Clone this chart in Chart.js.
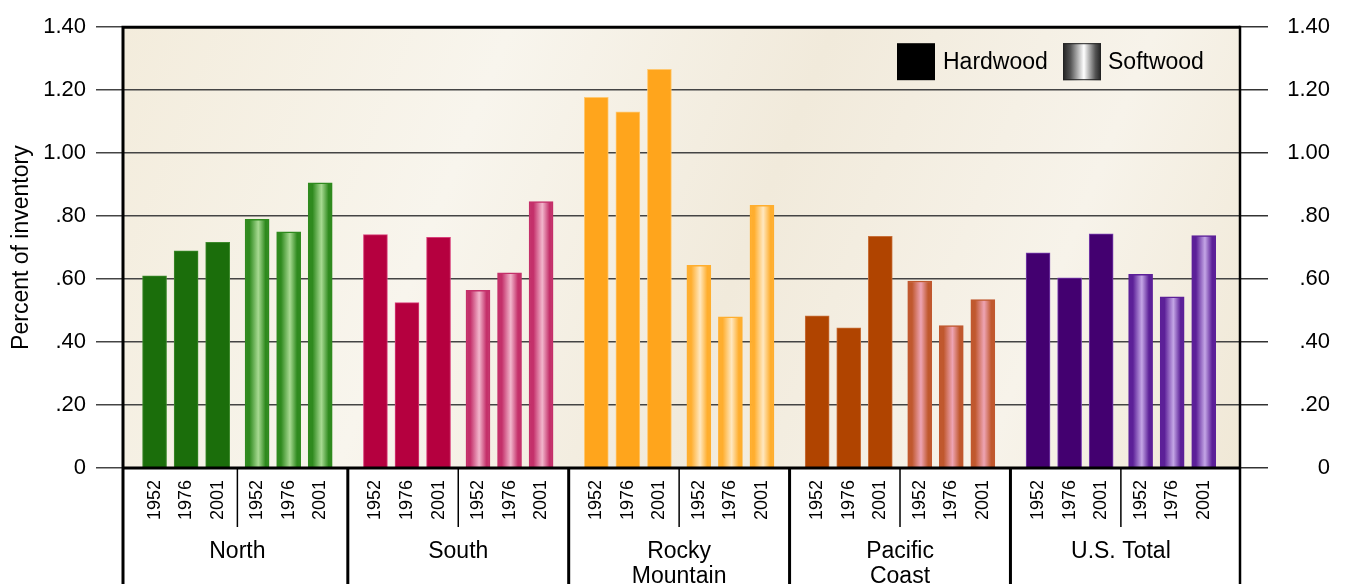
<!DOCTYPE html>
<html>
<head>
<meta charset="utf-8">
<title>Percent of inventory</title>
<script src="https://cdn.jsdelivr.net/npm/chart.js@4.4.1/dist/chart.umd.min.js"></script>
<style>
    html, body { margin: 0; padding: 0; background: #fff; }
    #chart-wrap { position: relative; width: 1347px; height: 584px; }
</style>
</head>
<body>
<div id="chart-wrap"><canvas id="inventory-chart"></canvas></div>
<script>
// --- Data ---
const regions = ['North', 'South', ['Rocky', 'Mountain'], ['Pacific', 'Coast'], 'U.S. Total'];
const years = ['1952', '1976', '2001'];
const hardwood = [
    [0.610, 0.690, 0.717],
    [0.741, 0.525, 0.733],
    [1.177, 1.131, 1.266],
    [0.483, 0.445, 0.736],
    [0.683, 0.604, 0.744]
];
const softwood = [
    [0.790, 0.750, 0.906],
    [0.564, 0.620, 0.846],
    [0.644, 0.480, 0.834],
    [0.594, 0.452, 0.535],
    [0.615, 0.544, 0.738]
];
const yTickValues = [0, 0.2, 0.4, 0.6, 0.8, 1.0, 1.2, 1.4];
const yTickLabels = ['0', '.20', '.40', '.60', '.80', '1.00', '1.20', '1.40'];
const legendLabels = ['Hardwood', 'Softwood'];

// --- Colours per region ---
const hardColors = ['#1b6e0b', '#b5003f', '#ffa51c', '#b04400', '#430070'];
const hardEdges = ['#3d8a2c', '#d8407a', '#ffc870', '#c8703a', '#7a40b0'];
const softEdges = ['#2f8a1e', '#c4306a', '#ffae2e', '#c0582e', '#5c2098'];
const softLights = ['#a8da92', '#f2b6cc', '#ffe8c0', '#eea4b4', '#c4a6e6'];

const FONT = '"Liberation Sans", Arial, Helvetica, sans-serif';
const BAR_W = 24;
const GROUP_SPAN = 7;
// slot of each bar inside a region group (3 hardwood, small gap, 3 softwood)
const slotOffsets = [1, 2, 3, 4.25, 5.25, 6.25];

function slotX(g, i) {
    return g * GROUP_SPAN + slotOffsets[i];
}

const hardPoints = [];
const softPoints = [];
const tickPositions = [];
regions.forEach((r, g) => {
    hardwood[g].forEach((v, i) => hardPoints.push({ x: slotX(g, i), y: v }));
    softwood[g].forEach((v, i) => softPoints.push({ x: slotX(g, i + 3), y: v }));
    for (let i = 0; i < 6; i++) tickPositions.push(slotX(g, i));
});

// Softwood bars get a cylinder-like horizontal gradient
function softFill(ctx) {
    if (ctx.type !== 'data') return '#888';
    const g = Math.floor(ctx.dataIndex / 3);
    const xs = ctx.chart.scales.x;
    const cx = xs ? xs.getPixelForValue(ctx.raw.x) : NaN;
    if (!isFinite(cx)) return softEdges[g];
    const grad = ctx.chart.ctx.createLinearGradient(cx - BAR_W / 2, 0, cx + BAR_W / 2, 0);
    grad.addColorStop(0, softEdges[g]);
    grad.addColorStop(0.18, softEdges[g]);
    grad.addColorStop(0.55, softLights[g]);
    grad.addColorStop(0.85, softEdges[g]);
    grad.addColorStop(1, softEdges[g]);
    return grad;
}

// Background, frame, category separators, region names and legend
const decorPlugin = {
    id: 'decor',
    beforeDraw(chart) {
        const { ctx, chartArea: a } = chart;
        const bg = ctx.createLinearGradient(a.left, a.top, a.right, a.bottom);
        bg.addColorStop(0, '#f3ecdc');
        bg.addColorStop(0.3, '#f8f5ed');
        bg.addColorStop(0.55, '#f1eadb');
        bg.addColorStop(0.8, '#f7f3ea');
        bg.addColorStop(1, '#f0e8d6');
        ctx.save();
        ctx.fillStyle = bg;
        ctx.fillRect(a.left, a.top, a.right - a.left, a.bottom - a.top);
        ctx.restore();
    },
    afterDraw(chart) {
        const { ctx, chartArea: a, scales: { x } } = chart;
        const H = chart.height;
        ctx.save();
        ctx.strokeStyle = '#000';
        ctx.lineCap = 'butt';

        // frame
        ctx.lineWidth = 3;
        ctx.beginPath();
        ctx.moveTo(a.left - 1.5, a.top);
        ctx.lineTo(a.right, a.top);
        ctx.moveTo(a.left, a.top);
        ctx.lineTo(a.left, H);
        ctx.moveTo(a.left, a.bottom);
        ctx.lineTo(a.right, a.bottom);
        ctx.stroke();
        ctx.lineWidth = 2.5;
        ctx.beginPath();
        ctx.moveTo(a.right, a.top - 1.5);
        ctx.lineTo(a.right, H);
        ctx.stroke();

        // separators between region groups, and between hardwood / softwood
        regions.forEach((r, g) => {
            if (g > 0) {
                const px = x.getPixelForValue((slotX(g - 1, 5) + slotX(g, 0)) / 2);
                ctx.lineWidth = 3;
                ctx.beginPath();
                ctx.moveTo(px, a.bottom);
                ctx.lineTo(px, H);
                ctx.stroke();
            }
            const sx = x.getPixelForValue((slotX(g, 2) + slotX(g, 3)) / 2);
            ctx.lineWidth = 1.5;
            ctx.beginPath();
            ctx.moveTo(sx, a.bottom);
            ctx.lineTo(sx, a.bottom + 59);
            ctx.stroke();

            // region name
            const cx = x.getPixelForValue((slotX(g, 0) + slotX(g, 5)) / 2);
            const lines = Array.isArray(r) ? r : [r];
            ctx.fillStyle = '#000';
            ctx.font = '23px ' + FONT;
            ctx.textAlign = 'center';
            ctx.textBaseline = 'alphabetic';
            lines.forEach((line, k) => ctx.fillText(line, cx, a.bottom + 90 + k * 25));
        });

        // legend
        const ly = a.top + 16;
        const hx = a.right - 343;
        const sx = a.right - 177;
        ctx.fillStyle = '#000';
        ctx.fillRect(hx, ly, 38, 37);
        const lg = ctx.createLinearGradient(sx, 0, sx + 38, 0);
        lg.addColorStop(0, '#222');
        lg.addColorStop(0.2, '#555');
        lg.addColorStop(0.55, '#fff');
        lg.addColorStop(0.85, '#555');
        lg.addColorStop(1, '#222');
        ctx.fillStyle = lg;
        ctx.fillRect(sx, ly, 38, 37);
        ctx.lineWidth = 1;
        ctx.strokeStyle = '#222';
        ctx.strokeRect(sx + 0.5, ly + 0.5, 37, 36);
        ctx.fillStyle = '#000';
        ctx.font = '23px ' + FONT;
        ctx.textAlign = 'left';
        ctx.textBaseline = 'middle';
        ctx.fillText(legendLabels[0], hx + 46, ly + 19);
        ctx.fillText(legendLabels[1], sx + 45, ly + 19);
        ctx.restore();
    }
};

const yTicksCommon = {
    color: '#000',
    font: { family: FONT, size: 22 },
    callback: (v, i) => yTickLabels[i]
};

new Chart(document.getElementById('inventory-chart'), {
    type: 'bar',
    data: {
        datasets: [
            {
                label: legendLabels[0],
                data: hardPoints,
                backgroundColor: ctx => hardColors[Math.floor(ctx.dataIndex / 3)] || '#000',
                borderColor: ctx => hardEdges[Math.floor(ctx.dataIndex / 3)] || '#000',
                borderWidth: 1,
                barThickness: BAR_W,
                grouped: false
            },
            {
                label: legendLabels[1],
                data: softPoints,
                backgroundColor: softFill,
                borderColor: ctx => softEdges[Math.floor(ctx.dataIndex / 3)] || '#888',
                borderWidth: 1.5,
                barThickness: BAR_W,
                grouped: false
            }
        ]
    },
    options: {
        responsive: true,
        maintainAspectRatio: false,
        animation: false,
        layout: { padding: { top: 21, bottom: 0, left: 0, right: 17 } },
        plugins: {
            legend: { display: false },
            tooltip: { enabled: false }
        },
        scales: {
            x: {
                type: 'linear',
                min: 0,
                max: 35.4,
                offset: false,
                grid: { display: false, drawTicks: false },
                border: { display: false },
                afterBuildTicks: scale => {
                    scale.ticks = tickPositions.map(v => ({ value: v }));
                },
                afterFit: scale => { scale.height = 116; },
                ticks: {
                    autoSkip: false,
                    minRotation: 90,
                    maxRotation: 90,
                    padding: 12,
                    color: '#000',
                    font: { family: FONT, size: 18 },
                    callback: (v, i) => years[i % 3]
                }
            },
            y: {
                position: 'left',
                min: 0,
                max: 1.4,
                afterBuildTicks: scale => {
                    scale.ticks = yTickValues.map(v => ({ value: v }));
                },
                afterFit: scale => { scale.width = 123; },
                grid: { color: '#444', lineWidth: 1.5, tickLength: 27 },
                border: { display: false },
                ticks: Object.assign({ padding: 10 }, yTicksCommon),
                title: {
                    display: true,
                    text: 'Percent of inventory',
                    color: '#000',
                    font: { family: FONT, size: 23 },
                    padding: { top: 8, bottom: 0 }
                }
            },
            y2: {
                position: 'right',
                min: 0,
                max: 1.4,
                afterBuildTicks: scale => {
                    scale.ticks = yTickValues.map(v => ({ value: v }));
                },
                afterFit: scale => { scale.width = 90; },
                grid: { color: '#333', lineWidth: 1.5, tickLength: 28, drawOnChartArea: false },
                border: { display: false },
                ticks: Object.assign({ padding: 14, crossAlign: 'far' }, yTicksCommon)
            }
        }
    },
    plugins: [decorPlugin]
});
</script>
</body>
</html>
